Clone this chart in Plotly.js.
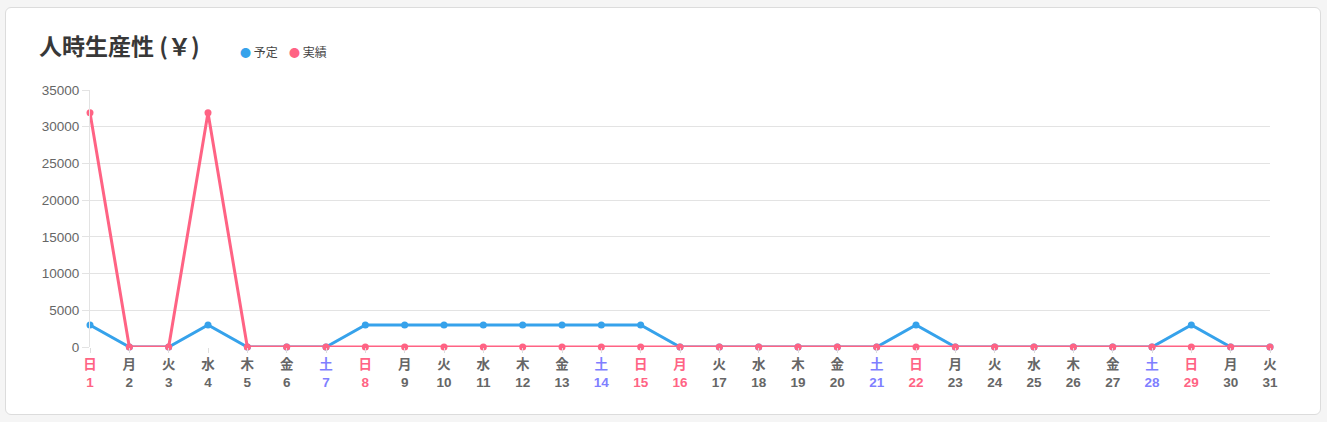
<!DOCTYPE html>
<html>
<head>
<meta charset="utf-8">
<script src="https://cdn.plot.ly/plotly-3.0.1.min.js"></script>
<style>
  html, body { margin: 0; padding: 0; background: #f5f5f5; }
  #card { position: absolute; left: 5px; top: 7px; width: 1314px; height: 406px;
          background: #fff; border: 1px solid #dcdcdc; border-radius: 6px; }
  #chart { position: absolute; left: 0; top: 0; width: 1327px; height: 422px; }
</style>
</head>
<body>
<div id="card"></div>
<div id="chart"></div>
<script>
const days = [1,2,3,4,5,6,7,8,9,10,11,12,13,14,15,16,17,18,19,20,21,22,23,24,25,26,27,28,29,30,31];
const weekdays = ['日','月','火','水','木','金','土','日','月','火','水','木','金','土','日','月','火','水','木','金','土','日','月','火','水','木','金','土','日','月','火'];
const dayKinds = ['sun','','','','','','sat','sun','','','','','','sat','sun','hol','','','','','sat','sun','','','','','','sat','sun','',''];
const planned = [3000,0,0,3000,0,0,0,3000,3000,3000,3000,3000,3000,3000,3000,0,0,0,0,0,0,3000,0,0,0,0,0,0,3000,0,0];
const actual  = [31900,0,0,31900,0,0,0,0,0,0,0,0,0,0,0,0,0,0,0,0,0,0,0,0,0,0,0,0,0,0,0];
const seriesNames = ['予定','実績'];
const yTicks = [0,5000,10000,15000,20000,25000,30000,35000];
const chartTitle = '人時生産性 (￥)';

const kindColor = {sun:'#ff6384', hol:'#ff6384', sat:'#7f7fff', '':'#666666'};
const tickText = days.map((d,i) => {
  const c = kindColor[dayKinds[i]];
  return `<span style="color:${c}">${weekdays[i]}</span><br><span style="color:${c}">${d}</span>`;
});

const blue = 'rgb(54,162,235)';
const red = 'rgb(255,99,132)';
const colors = [blue, red];

const traces = [
  {x: days, y: planned, name: seriesNames[0], mode: 'lines+markers', showlegend: false,
   line: {color: blue, width: 3}, marker: {color: blue, size: 7}, cliponaxis: false, hoverinfo: 'skip'},
  {x: days, y: actual, name: seriesNames[1], mode: 'lines+markers', showlegend: false,
   line: {color: red, width: 3}, marker: {color: red, size: 7}, cliponaxis: false, hoverinfo: 'skip'}
];

// legend (as annotations so the dot sits right next to the label)
const plotL = 90, plotW = 1180, plotB = 347, plotH = 257;
const legendX = [238, 287];
const legendY = 51;
const annotations = seriesNames.map((n, i) => ({
  xref: 'paper', yref: 'paper',
  x: (legendX[i] - plotL) / plotW, y: (plotB - legendY) / plotH,
  xanchor: 'left', yanchor: 'middle', showarrow: false,
  text: `<span style="color:${colors[i]};font-size:11px">●</span><span style="font-size:12px"> ${n}</span>`,
  font: {size: 12, color: '#444', family: '"Noto Sans CJK JP", sans-serif'}
}));

const layout = {
  width: 1327, height: 422,
  paper_bgcolor: 'rgba(0,0,0,0)', plot_bgcolor: 'rgba(0,0,0,0)',
  margin: {l: 90, r: 57, t: 90, b: 75},
  font: {family: '"Liberation Sans", "Noto Sans CJK JP", sans-serif', color: '#666'},
  title: {text: '<b>' + chartTitle + '</b>', xref: 'container', yref: 'container',
          x: 39/1327, xanchor: 'left', y: 1 - 47/422, yanchor: 'middle',
          font: {size: 23, color: '#383838', family: '"Noto Sans CJK JP", sans-serif'}},
  showlegend: false,
  annotations: annotations,
  xaxis: {range: [1, 31], tickmode: 'array', tickvals: days, ticktext: tickText,
          showgrid: false, zeroline: false, showline: false,
          ticks: 'outside', ticklen: 5, tickcolor: '#dddddd',
          tickfont: {size: 13.5, color: '#666', weight: 'bold'}, fixedrange: true},
  yaxis: {range: [0, 35000], tickmode: 'array', tickvals: yTicks, tickformat: 'd',
          showgrid: true, gridcolor: '#e3e3e3', zeroline: false,
          showline: true, linecolor: '#e3e3e3', linewidth: 1,
          ticks: 'outside', ticklen: 7, tickcolor: '#e3e3e3',
          tickfont: {size: 13.5, color: '#666'}, fixedrange: true}
};

Plotly.newPlot('chart', traces, layout, {displayModeBar: false, staticPlot: true});
</script>
</body>
</html>
